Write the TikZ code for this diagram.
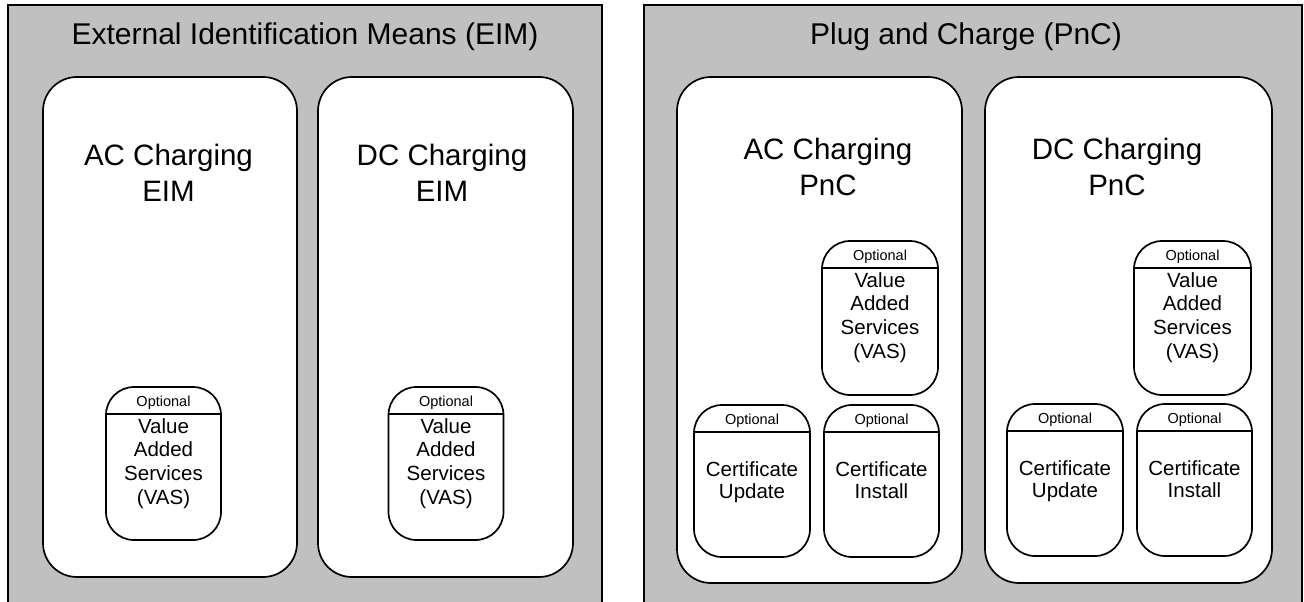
\documentclass[tikz,border=0pt]{standalone}
\usepackage{fontspec}
\setmainfont{Liberation Sans}
\definecolor{groupgray}{RGB}{192,192,192}
\begin{document}
\begin{tikzpicture}[x=1pt, y=-1pt, line width=1.7pt,
  every node/.style={inner sep=0pt},
  group/.style={draw, fill=groupgray},
  bigcase/.style={draw, fill=white, rounded corners=34pt},
  smallcase/.style={draw, fill=white, rounded corners=28pt},
  titletext/.style={anchor=base, font=\fontsize{30}{36}\selectfont},
  casetext/.style={anchor=base, align=center, font=\fontsize{29.5}{36}\selectfont},
  opttext/.style={anchor=base, font=\fontsize{14.5}{17}\selectfont},
  vastext/.style={anchor=base, align=center, font=\fontsize{20.5}{23.7}\selectfont},
  certtext/.style={anchor=base, align=center, font=\fontsize{20.5}{22}\selectfont}]
  \useasboundingbox (0,0) rectangle (1304,602);
  \clip (0,0) rectangle (1304,602);

  % groups
  \draw[group] (8,5) rectangle (602,630);
  \draw[group] (644,5) rectangle (1302,630);
  \node[titletext] (eimtitle) at (305,45) {External Identification Means (EIM)};
  \node[titletext] (pnctitle) at (966,45) {Plug and Charge (PnC)};

  % charging cases (base = last line)
  \node[bigcase, minimum width=254, minimum height=500] (aceim) at (170,327) {};
  \node[bigcase, minimum width=255, minimum height=500] (dceim) at (445.5,327) {};
  \node[bigcase, minimum width=285, minimum height=506] (acpnc) at (819.5,330) {};
  \node[bigcase, minimum width=287, minimum height=506] (dcpnc) at (1128.5,330) {};
  \node[casetext] (aceimtext) at (168.5,201) {AC Charging\\EIM};
  \node[casetext] (dceimtext) at (442,201) {DC Charging\\EIM};
  \node[casetext] (acpnctext) at (828,195) {AC Charging\\PnC};
  \node[casetext] (dcpnctext) at (1117,195) {DC Charging\\PnC};

  % optional parts
  \node[smallcase, minimum width=115, minimum height=153] (vasa) at (163.5,463.5) {};
  \node[smallcase, minimum width=115, minimum height=153] (vasb) at (446,463.5) {};
  \node[smallcase, minimum width=116, minimum height=154] (vasc) at (880,318) {};
  \node[smallcase, minimum width=117, minimum height=154] (vasd) at (1192.5,318) {};
  \node[smallcase, minimum width=116, minimum height=152] (upda) at (752,481) {};
  \node[smallcase, minimum width=115, minimum height=152] (insa) at (881.5,481) {};
  \node[smallcase, minimum width=116, minimum height=152] (updb) at (1065,480) {};
  \node[smallcase, minimum width=115, minimum height=152] (insb) at (1194.5,480) {};

  \foreach \part in {vasa,vasb,vasc,vasd,upda,insa,updb,insb} {
    \draw ([yshift=-28pt]\part.north west) -- ([yshift=-28pt]\part.north east);
    \node[opttext] (\part opt) at ([yshift=-20pt]\part.north) {Optional};
  }
  \foreach \part in {vasa,vasb,vasc,vasd}
    \node[vastext] (\part text) at ([yshift=-118pt]\part.north) {Value\\Added\\Services\\(VAS)};
  \node[certtext] (updatext) at ([yshift=-94pt]upda.north) {Certificate\\Update};
  \node[certtext] (insatext) at ([yshift=-94pt]insa.north) {Certificate\\Install};
  \node[certtext] (updbtext) at ([yshift=-94pt]updb.north) {Certificate\\Update};
  \node[certtext] (insbtext) at ([yshift=-94pt]insb.north) {Certificate\\Install};
\end{tikzpicture}
\end{document}
